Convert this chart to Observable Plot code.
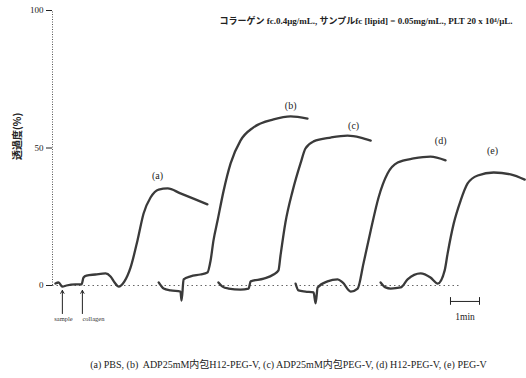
<!DOCTYPE html>
<html><head><meta charset="utf-8">
<script src="https://cdn.jsdelivr.net/npm/d3@7"></script>
<script src="https://cdn.jsdelivr.net/npm/@observablehq/plot@0.6"></script>
<style>body{margin:0;background:#fff}</style>
</head><body><div id="c"></div>
<script>
// time in minutes, value = 透過度 (%)
const a_t = [0.10,0.21,0.34,0.48,0.79,1.00,1.07,1.17,1.48,1.83,2.00,2.14,2.28,2.48,2.69,2.93,3.14,3.38,3.66,3.97,4.41,4.86,5.34];
const a_v = [0.7,1.1,-0.4,0,0.4,0.4,2.9,3.6,4.0,4.4,3.3,1.1,-0.4,1.5,6.5,16.4,26.2,32.0,34.9,35.3,33.5,31.6,29.5];
const b_t = [3.66,3.83,4.07,4.41,4.45,4.52,4.76,5.10,5.34,5.45,5.55,5.69,5.90,6.14,6.48,6.93,7.62,8.21,8.79];
const b_v = [1.1,-1.1,-1.8,-2.2,-5.5,2.2,3.3,4.0,4.7,9.1,16.4,23.6,34.5,44.4,52.7,57.5,60.4,61.5,60.7];
const c_t = [5.72,5.86,6.07,6.48,6.76,6.83,7.28,7.62,7.79,7.86,8.03,8.28,8.55,8.72,9.00,9.59,10.17,10.62,10.97];
const c_v = [1.1,-0.4,-1.1,-1.5,-1.1,1.5,2.5,4.0,5.5,10.9,22.9,34.5,44.4,49.8,52.4,53.8,54.5,53.8,52.7];
const d_t = [8.38,8.48,8.72,9.00,9.07,9.14,9.48,9.83,10.00,10.28,10.52,10.72,10.97,11.24,11.55,11.90,12.45,13.03,13.55];
const d_v = [0.7,-1.8,-2.2,-2.5,-6.5,-0.7,1.5,2.2,1.1,-2.2,-1.1,8.0,20.0,32.0,40.7,44.7,46.2,46.9,45.5];
const e_t = [11.31,11.48,11.66,12.00,12.24,12.69,13.03,13.28,13.52,13.62,13.83,14.07,14.31,14.66,15.21,15.79,16.28];
const e_v = [1.1,-0.7,-1.1,-0.7,2.2,4.4,2.9,0.7,5.5,11.6,22.5,30.9,37.1,40.0,41.1,40.4,38.5];

const seriesNames = ["(a)","(b)","(c)","(d)","(e)"];
const labelT = [3.62,8.21,10.38,13.38,15.17];
const labelV = [40,65.5,58.2,52.7,49.1];
const yTicks = [0,50,100];
const arrowT = [0.34,1.03];
const arrowText = ["sample","collagen"];
const arrowTextT = [0.38,1.41];
const scaleBarT = [13.72,14.72];
const scaleBarText = "1min";
const titleText = "コラーゲン fc.0.4μg/mL., サンプルfc [lipid] = 0.05mg/mL., PLT 20 x 10⁴/μL.";
const captionText = "(a) PBS, (b)  ADP25mM内包H12-PEG-V, (c) ADP25mM内包PEG-V, (d) H12-PEG-V, (e) PEG-V";
const yLabel = "透過度(%)";

const allT = [a_t,b_t,c_t,d_t,e_t], allV = [a_v,b_v,c_v,d_v,e_v];
const rows = [];
allT.forEach((ts,i)=>ts.forEach((t,j)=>rows.push({s:seriesNames[i],t,v:allV[i][j]})));
const labels = seriesNames.map((s,i)=>({s,t:labelT[i],v:labelV[i]}));
const arrows = arrowT.map((t,i)=>({t,name:arrowText[i],tt:arrowTextT[i]}));

const serif = "Liberation Serif, 'Noto Sans CJK JP', serif";
const chart = Plot.plot({
  width:526, height:378,
  marginLeft:52, marginRight:0, marginTop:10, marginBottom:93,
  x:{domain:[0,16.34], axis:null},
  y:{domain:[0,100], ticks:yTicks, tickSize:6, label:null},
  style:{fontFamily:serif, fontSize:"9px", background:"#fff", color:"#222"},
  marks:[
    Plot.ruleX([0],{y1:0,y2:100,stroke:"#555",strokeDasharray:"1,1.5",strokeWidth:1}),
    Plot.ruleY([0],{x1:0,x2:14.1,stroke:"#666",strokeDasharray:"1.5,3",strokeWidth:1}),
    Plot.line(rows,{x:"t",y:"v",z:"s",curve:"monotone-x",stroke:"#3a3a3a",strokeWidth:2.3,strokeLinejoin:"round",strokeLinecap:"round"}),
    Plot.text(labels,{x:"t",y:"v",text:"s",fontSize:10,fill:"#222"}),
    Plot.arrow(arrows,{x1:"t",x2:"t",y1:-10.2,y2:-1.8,stroke:"#222",strokeWidth:1,headLength:5}),
    Plot.text(arrows,{x:"tt",y:-12.2,text:"name",fontSize:6.5,fill:"#333"}),
    Plot.ruleY([-5.8],{x1:scaleBarT[0],x2:scaleBarT[1],stroke:"#222",strokeWidth:1}),
    Plot.ruleX(scaleBarT,{y1:-4.4,y2:-7.2,stroke:"#222",strokeWidth:1}),
    Plot.text([scaleBarText],{x:(scaleBarT[0]+scaleBarT[1])/2,y:-11.3,fontSize:9.5,fill:"#222"}),
    Plot.text([titleText],{frameAnchor:"top-right",dx:-14,dy:7,fontSize:9,fontWeight:"bold",fill:"#222"}),
    Plot.text([yLabel],{frameAnchor:"left",dx:-35,dy:12,rotate:-90,fontSize:10,fontWeight:"bold",fontFamily:"'Noto Sans CJK JP', sans-serif",fill:"#222"}),
    Plot.text([captionText],{frameAnchor:"bottom",dx:-1,dy:82,fontSize:10,fill:"#222"})
  ]
});
document.getElementById("c").appendChild(chart);
</script></body></html>
